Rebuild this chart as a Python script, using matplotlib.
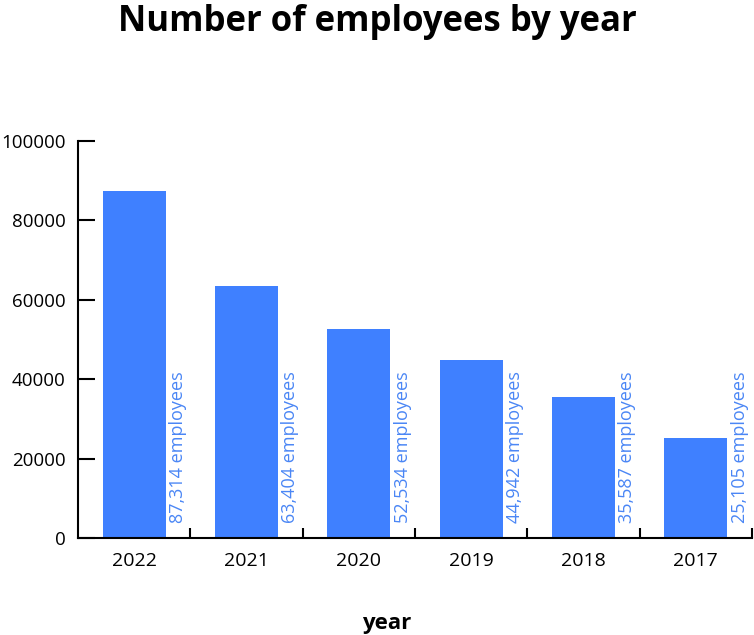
import matplotlib
matplotlib.use("Agg")
import matplotlib.pyplot as plt
import numpy as np

# data
years = ["2022", "2021", "2020", "2019", "2018", "2017"]
employees = [87314, 63404, 52534, 44942, 35587, 25105]
yticks = [0, 20000, 40000, 60000, 80000, 100000]

plt.rcParams["font.family"] = ["Open Sans", "DejaVu Sans"]

bar_color = "#3f80ff"
label_color = "#4a86f5"

fig = plt.figure(figsize=(7.54, 6.35), dpi=100)
ax = fig.add_axes([0.1034, 0.1528, 0.8939, 0.6252])

x = np.arange(len(years))
ax.bar(x, employees, width=0.56, color=bar_color)

# rotated value labels right of each bar
for xi, v in zip(x, employees):
    ax.text(xi + 0.31, 3800, f"{v:,} employees", rotation=90,
            ha="left", va="bottom", color=label_color, fontsize=13)

ax.set_xlim(-0.5, len(years) - 0.5)
ax.set_ylim(0, 100000)

# category labels at centers, ticks at the boundaries
ax.set_xticks(x + 0.5)
ax.set_xticklabels([])
ax.set_xticks(x, minor=True)
ax.set_xticklabels(years, minor=True, fontsize=14)
ax.tick_params(axis="x", which="major", direction="in", length=7, width=1.5)
ax.tick_params(axis="x", which="minor", length=0, pad=10)

ax.set_yticks(yticks)
ax.set_yticklabels([str(t) for t in yticks], fontsize=13.5)
ax.tick_params(axis="y", direction="in", length=12, width=1.5, pad=9)

for side in ["top", "right"]:
    ax.spines[side].set_visible(False)
for side in ["left", "bottom"]:
    ax.spines[side].set_linewidth(1.5)

ax.set_xlabel("year", fontsize=16, fontweight="bold")
ax.xaxis.set_label_coords(0.5 - 0.037 / 0.8939, -0.188)
fig.suptitle("Number of employees by year", fontsize=25, fontweight="bold", y=0.993)

fig.savefig("out.png", dpi=100)
